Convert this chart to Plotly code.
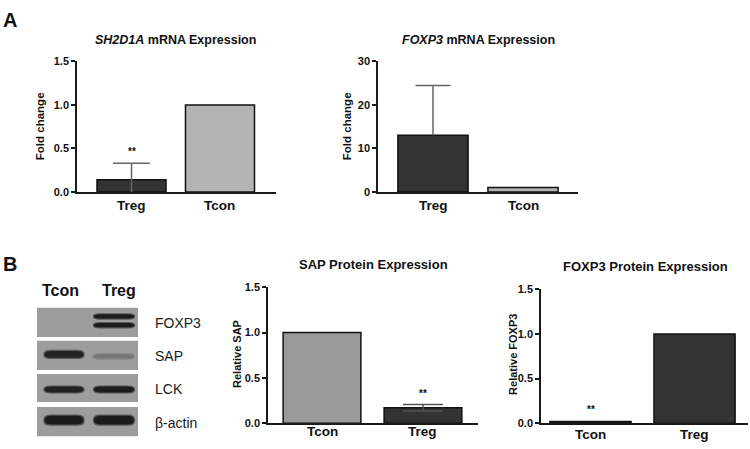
import plotly.graph_objects as go

W, H = 750, 449
FONT = "Arial, Liberation Sans, sans-serif"
AX = "#1a1a1a"

# ---------------- data ----------------
sh2d1a_groups = ["Treg", "Tcon"]
sh2d1a_fold = [0.14, 1.0]
sh2d1a_err = [0.19, None]
sh2d1a_sig = ["**", ""]

foxp3_mrna_groups = ["Treg", "Tcon"]
foxp3_mrna_fold = [13.05, 1.0]
foxp3_mrna_err_up = [11.45, None]

sap_groups = ["Tcon", "Treg"]
sap_rel = [1.0, 0.172]
sap_err = [None, 0.036]
sap_sig = ["", "**"]

foxp3_prot_groups = ["Tcon", "Treg"]
foxp3_prot_rel = [0.02, 1.0]
foxp3_prot_sig = ["**", ""]

blot_lanes = ["Tcon", "Treg"]
blot_targets = ["FOXP3", "SAP", "LCK", "β-actin"]
# relative band darkness per target (rows) and lane (cols)
band_intensity = [[0.0, 1.0], [0.95, 0.3], [0.95, 1.0], [1.0, 1.0]]


def px(x):
    return x / W


def py(y):
    return 1 - y / H


fig = go.Figure()

DARK = "#333333"


def bars(groups, vals, colors, xa, ya, width):
    fig.add_trace(go.Bar(
        x=groups, y=vals, width=width, xaxis=xa, yaxis=ya,
        marker=dict(color=colors, line=dict(color="#111111", width=1.5)),
        showlegend=False, hoverinfo="skip"))


def errbars(groups, vals, up, down, xa, ya, cap_px, color):
    sx, sy, cx, cy = [], [], [], []
    for g, v, u, d in zip(groups, vals, up, down):
        if u is None:
            continue
        hi = v + u
        lo = max(0.0, v - d)
        sx += [g, g, None]
        sy += [lo, hi, None]
        cx.append(g)
        cy.append(hi)
        if v - d > 0 and d > 0:
            cx.append(g)
            cy.append(lo)
    fig.add_trace(go.Scatter(x=sx, y=sy, mode="lines", xaxis=xa, yaxis=ya,
                             line=dict(color=color, width=1.5),
                             showlegend=False, hoverinfo="skip"))
    fig.add_trace(go.Scatter(x=cx, y=cy, mode="markers", xaxis=xa, yaxis=ya,
                             marker=dict(symbol="line-ew", size=cap_px / 1.4,
                                         line=dict(color=color, width=1.5)),
                             showlegend=False, hoverinfo="skip"))


# chart 1
bars(sh2d1a_groups, sh2d1a_fold, [DARK, "#b4b4b4"], "x", "y", 0.78)
errbars(sh2d1a_groups, sh2d1a_fold, sh2d1a_err, sh2d1a_err, "x", "y", 37, "#666666")
# chart 2
bars(foxp3_mrna_groups, foxp3_mrna_fold, [DARK, "#b4b4b4"], "x2", "y2", 0.78)
errbars(foxp3_mrna_groups, foxp3_mrna_fold, foxp3_mrna_err_up, [0, None], "x2", "y2", 35, "#666666")
# chart 3
bars(sap_groups, sap_rel, ["#9a9a9a", DARK], "x3", "y3", 0.77)
errbars(sap_groups, sap_rel, sap_err, sap_err, "x3", "y3", 40, "#555555")
# chart 4
bars(foxp3_prot_groups, foxp3_prot_rel, ["#222222", DARK], "x4", "y4", 0.78)


def xax(l, r, rng, anchor):
    return dict(domain=[px(l), px(r)], range=rng, type="category", anchor=anchor,
                showline=True, linecolor=AX, linewidth=1.5, ticks="", showgrid=False,
                zeroline=False, fixedrange=True, showticklabels=False)


def yax(b, t, rng, dtick, fmt, anchor):
    return dict(domain=[py(b), py(t)], range=rng, dtick=dtick, tickformat=fmt, anchor=anchor,
                showline=True, linecolor=AX, linewidth=1.5, ticks="outside", ticklen=4,
                tickwidth=1.5, tickcolor=AX, showgrid=False, zeroline=False, fixedrange=True,
                tickfont=dict(family=FONT, size=11, color="#111111", weight="bold"))


layout = dict(
    width=W, height=H, margin=dict(l=0, r=0, t=0, b=0),
    paper_bgcolor="white", plot_bgcolor="white", barmode="overlay",
    xaxis=xax(77, 276, [-0.616, 1.633], "y"),
    yaxis=yax(191, 57, [0, 1.5], 0.5, ".1f", "x"),
    xaxis2=xax(378, 578, [-0.611, 1.611], "y2"),
    yaxis2=yax(191, 57, [0, 30], 10, "d", "x2"),
    xaxis3=xax(268, 478, [-0.535, 1.545], "y3"),
    yaxis3=yax(428.7, 289, [0, 1.5], 0.5, ".1f", "x3"),
    xaxis4=xax(541, 748, [-0.476, 1.514], "y4"),
    yaxis4=yax(428.7, 291, [0, 1.5], 0.5, ".1f", "x4"),
)
fig.update_layout(**layout)

ann = []


def text(x, y, s, size, bold=True, angle=0, xanchor="center", color="#111111"):
    ann.append(dict(x=px(x), y=py(y), xref="paper", yref="paper", text=s, showarrow=False,
                    textangle=angle, xanchor=xanchor, yanchor="middle",
                    font=dict(family=FONT, size=size, color=color,
                              weight="bold" if bold else "normal")))


def cat_labels(groups, xa, y):
    for g in groups:
        ann.append(dict(x=g, y=py(y), xref=xa, yref="paper", text=g, showarrow=False,
                        xanchor="center", yanchor="middle",
                        font=dict(family=FONT, size=13.5, color="#111111", weight="bold")))


cat_labels(sh2d1a_groups, "x", 205)
cat_labels(foxp3_mrna_groups, "x2", 205)
cat_labels(sap_groups, "x3", 437.5)
cat_labels(foxp3_prot_groups, "x4", 440)

text(10, 14, "A", 20)
text(10, 265, "B", 20)
text(175, 35, "<i>SH2D1A</i> mRNA Expression", 12.5)
text(478, 35, "<i>FOXP3</i> mRNA Expression", 12.5)
text(373, 266, "SAP Protein Expression", 13)
text(645, 268, "FOXP3 Protein Expression", 13)
text(40, 123.5, "Fold change", 11.5, angle=-90)
text(347, 123.5, "Fold change", 11.5, angle=-90)
text(237, 357.5, "Relative SAP", 11, angle=-90)
text(513, 358.5, "Relative FOXP3", 11, angle=-90)


def sig(groups, vals, errs, labels, xa, ya, shift):
    for i, (g, v, lab) in enumerate(zip(groups, vals, labels)):
        if not lab:
            continue
        top = v + (errs[i] or 0)
        ann.append(dict(x=g, y=top, xref=xa, yref=ya, text=lab, showarrow=False,
                        yanchor="bottom", yshift=shift,
                        font=dict(family=FONT, size=10, color="#111111", weight="bold")))


sig(sh2d1a_groups, sh2d1a_fold, sh2d1a_err, sh2d1a_sig, "x", "y", 4)
sig(sap_groups, sap_rel, sap_err, sap_sig, "x3", "y3", 3)
sig(foxp3_prot_groups, foxp3_prot_rel, [None, None], foxp3_prot_sig, "x4", "y4", 4)

# ---------------- western blot ----------------
lane_px = [(64, 19.5), (114, 20)]
text(60, 292, blot_lanes[0], 16)
text(119, 292, blot_lanes[1], 16)
box_rows = [(310, 340), (344, 374), (378, 407), (412, 442)]
# band y centres (px) / half heights per row; FOXP3 Treg is a doublet
band_geom = [[(319, 2.2), (328, 2.2)], [(358, 3.5)], [(394, 3.0)], [(425.5, 4.5)]]
BOX = (157, 157, 157)
BAND = (28, 28, 28)


def mix(t):
    c = [round(a + (b - a) * t) for a, b in zip(BOX, BAND)]
    return "rgb(%d,%d,%d)" % tuple(c)


def band_path(cx, cy, hw, hh):
    r = min(7, hw)
    pts = [("M", cx - hw + r, cy - hh), ("L", cx + hw - r, cy - hh),
           ("Q", cx + hw, cy - hh, cx + hw, cy), ("Q", cx + hw, cy + hh, cx + hw - r, cy + hh),
           ("L", cx - hw + r, cy + hh), ("Q", cx - hw, cy + hh, cx - hw, cy),
           ("Q", cx - hw, cy - hh, cx - hw + r, cy - hh)]
    s = ""
    for p in pts:
        cmd, coords = p[0], p[1:]
        xy = []
        for k in range(0, len(coords), 2):
            xy.append("%.5f,%.5f" % (px(coords[k]), py(coords[k + 1])))
        s += cmd + " ".join(xy) + " "
    return s + "Z"


shapes = []
for (top, bot), target, row_int, geom in zip(box_rows, blot_targets, band_intensity, band_geom):
    shapes.append(dict(type="rect", xref="paper", yref="paper", x0=px(37), x1=px(138),
                       y0=py(bot), y1=py(top), fillcolor="rgb(157,157,157)", line=dict(width=0),
                       layer="below"))
    text(153, (top + bot) / 2 + 1, target, 14, bold=False, xanchor="left", color="#1a1a1a")
    for (lx, hw), inten in zip(lane_px, row_int):
        if inten <= 0:
            continue
        for k, (cy, hh) in enumerate(geom):
            if target == "SAP" and lx > 100:
                cy += 2
                hh = 2.2
                lx2 = lx - 0.5
            else:
                lx2 = lx
            shapes.append(dict(type="path", xref="paper", yref="paper",
                               path=band_path(lx2, cy, hw + 1.2, hh + 1.2),
                               fillcolor=mix(inten * 0.55), line=dict(width=0)))
            shapes.append(dict(type="path", xref="paper", yref="paper",
                               path=band_path(lx2, cy, hw, hh),
                               fillcolor=mix(inten), line=dict(width=0)))

fig.update_layout(annotations=ann, shapes=shapes)
fig.write_html("out.html", config={"displayModeBar": False},
               post_script="document.body.style.margin='0';document.body.style.overflow='hidden';")
